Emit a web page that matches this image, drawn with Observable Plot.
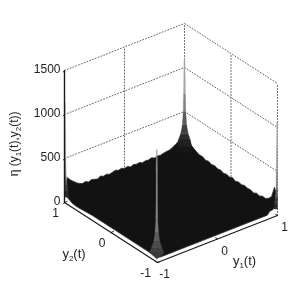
<!DOCTYPE html>
<html><head><meta charset="utf-8">
<script src="https://cdn.jsdelivr.net/npm/d3@7"></script>
<script src="https://cdn.jsdelivr.net/npm/@observablehq/plot@0.6"></script>
<style>html,body{margin:0;padding:0;background:#fff}svg{display:block;filter:blur(.4px)}</style>
</head><body><div id="c"></div>
<script>
// surface height along the back edges (y2=1 from y1=-1..1, then y1=1 from y2=1..-1)
const etaBackLeft=[270,230,200,170,150,135,145,125,140,130,120,140,125,135,120,130,140,125,135,120,130,110,125,115,120,105,115,110,120,105,115,110,120,125,130,145,165,190,240];
const etaBackRight=[230,170,150,130,115,120,100,110,95,105,90,100,85,95,85,100,80,95,85,100,90,95,80,100,90,110,105,130,170,300];
// front rim of the surface, in the y1/y2 plane
const rimY1=[-1,-.99,-.98,-.96,-.94,-.92,-.92,-.92,-.92,-.9,-.87,-.5,0,.5,.9,.96,.98,.985,.99,1];
const rimY2=[1,.98,.95,.88,.8,.5,0,-.5,-.87,-.9,-.91,-.91,-.91,-.91,-.91,-.88,-.93,-.96,-.985,-1];
const rimEta=[160,110,60,20,0,0,0,0,0,0,0,0,0,0,0,15,50,90,130,200];
// corner spikes
const frontEta=[0,70,120,200,300,450,700,1000,1240];
const frontHalf=[0,.07,.05,.028,.016,.009,.007,.006,.004];
const frontGray=["#3a3a3a","#404040","#4c4c4c","#5c5c5c","#777777","#858585","#8c8c8c","#999999"];
const backEta=[30,100,180,250,350,500,700,1100];
const backHalf=[.085,.07,.055,.035,.02,.012,.009,.005];
const backGray=["#161616","#202020","#2c2c2c","#404040","#5a5a5a","#808080","#a4a4a4"];
const leftEta=[60,130,200,300,500,800,1130];
const leftHalf=[.04,.035,.025,.016,.012,.01,.008];
const leftGray=["#2a2a2a","#3c3c3c","#5c5c5c","#808080","#999999","#aaaaaa"];
const rightEta=[70,130,200,300,500,800,1060];
const rightHalf=[.035,.03,.022,.014,.012,.01,.008];
const rightGray=["#2a2a2a","#3c3c3c","#5c5c5c","#808080","#999999","#aaaaaa"];
const zTicks=[0,500,1000,1500];
const yTicks=[-1,0,1];

// view of the 3-D box
const view={cx:170.5,cy:208.5,ux:60,uy:-23.5,vx:-46.5,vy:-30,w:.088};
const px=d=>view.cx+d[0]*view.ux+d[1]*view.vx;
const py=d=>view.cy+d[0]*view.uy+d[1]*view.vy-d[2]*view.w;
const line=(rows,o)=>Plot.line(rows,{x:px,y:py,...o});
const dot={stroke:"#666",strokeWidth:1,strokeDasharray:"1,2"};
const marks=[];
// walls
for(const z of zTicks.slice(1)){
  marks.push(line([[-1,1,z],[1,1,z],[1,-1,z]],dot));
}
marks.push(line([[0,1,0],[0,1,1500]],dot));
marks.push(line([[1,0,0],[1,0,1500]],dot));
marks.push(line([[1,1,0],[1,1,1500]],dot));
marks.push(line([[1,-1,0],[1,-1,1500]],dot));
// surface outline
const outline=[];
rimY1.forEach((a,i)=>outline.push([a,rimY2[i],rimEta[i]]));
etaBackRight.slice().reverse().forEach((e,i)=>outline.push([1,-1+2*(i+1)/(etaBackRight.length+1),e]));
outline.push([1,1,230]);
etaBackLeft.slice().reverse().forEach((e,i)=>outline.push([1-2*(i+1)/(etaBackLeft.length+1),1,e]));
marks.push(line(outline,{fill:"#121212",stroke:"#2a2a2a",strokeWidth:.8}));
// spikes: stacked bands, darker at the foot
function spike(c,etas,half,gray,sides){
  gray.forEach((g,k)=>{
    const [a,b]=sides;
    const q=[[c[0]+a*half[k],c[1]-a*half[k],etas[k]],[c[0]+a*half[k+1],c[1]-a*half[k+1],etas[k+1]],
             [c[0]+b*half[k+1],c[1]-b*half[k+1],etas[k+1]],[c[0]+b*half[k],c[1]-b*half[k],etas[k]]];
    marks.push(line(q,{fill:g,stroke:g,strokeWidth:.3}));
  });
}
spike([1,1],backEta,backHalf,backGray,[-1,1]);
spike([-.95,-.92],frontEta,frontHalf,frontGray,[-1,1]);
spike([-1,1],leftEta,leftHalf,leftGray,[0,1]);
spike([1,-1],rightEta,rightHalf,rightGray,[0,-1]);
// axes and ticks
const axis={stroke:"#1a1a1a",strokeWidth:1.2};
marks.push(line([[-1,1,0],[-1,1,1500]],{...axis,strokeWidth:1.4}));
marks.push(line([[-1,1,0],[-1,-1,0],[1,-1,0]],axis));
for(const z of zTicks) marks.push(line([[-1,1,z],[-1.03,.98,z]],{stroke:"#1a1a1a",strokeWidth:1}));
for(const t of yTicks){
  marks.push(line([[-1,t,0],[-.96,t,0]],{stroke:"#1a1a1a",strokeWidth:1}));
  marks.push(line([[t,-1,0],[t,-.96,0]],{stroke:"#1a1a1a",strokeWidth:1}));
}
const font={fontFamily:"Liberation Sans, Arial, sans-serif",fontSize:12,fill:"#222"};
marks.push(Plot.text(zTicks.map(z=>[-1,1,z]),{x:px,y:py,text:d=>String(d[2]),textAnchor:"end",dx:-4,dy:-1,...font}));
marks.push(Plot.text(yTicks.filter(t=>t>=0).map(t=>[-1,t,0]),{x:px,y:py,text:d=>String(d[1]),dx:-9,dy:11,...font}));
marks.push(Plot.text([[-1,-1,0]],{x:px,y:py,text:()=>"-1",dx:-12,dy:11,...font}));
marks.push(Plot.text(yTicks.map(t=>[t,-1,0]),{x:px,y:py,text:d=>String(d[0]),dx:7,dy:12,...font}));
marks.push(Plot.text([[.5,-1,0]],{x:px,y:py,text:()=>"y1(t)",dx:-3,dy:34,...font,fontSize:13}));
marks.push(Plot.text([[-1,0,0]],{x:px,y:py,text:()=>"y2(t)",dx:-37,dy:21,...font,fontSize:13}));
marks.push(Plot.text([[-1,1,700]],{x:px,y:py,text:()=>"η (y1(t),y2(t))",rotate:-90,dx:-50,dy:3,...font}));

const chart=Plot.plot({width:291,height:281,margin:0,
  x:{domain:[0,291],range:[0,291],axis:null},
  y:{domain:[0,281],range:[0,281],axis:null},
  marks});
// subscripts as real text
chart.querySelectorAll("text").forEach(t=>{
  const s=t.textContent;
  if(!/y[12]\(t\)/.test(s)) return;
  const inner=t.querySelector("tspan")||t;
  inner.textContent="";
  s.split(/(?<=y)([12])/).forEach((part,i)=>{
    const sp=document.createElementNS("http://www.w3.org/2000/svg","tspan");
    sp.textContent=part;
    if(i%2){sp.setAttribute("font-size","8");sp.setAttribute("dy","3");}
    else if(i>0){sp.setAttribute("dy","-3");}
    inner.appendChild(sp);
  });
});
document.getElementById("c").appendChild(chart);
</script></body></html>
